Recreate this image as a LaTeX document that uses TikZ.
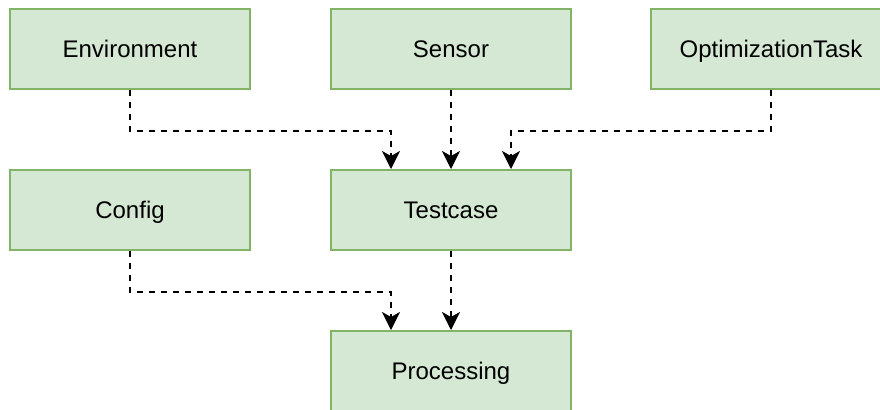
\documentclass[tikz,border=0pt]{standalone}
\usepackage{fontspec}
\setmainfont{Liberation Sans}
\usepackage{tikz}
\usepackage{xcolor}
\usetikzlibrary{arrows.meta}

\definecolor{boxfill}{HTML}{D5E8D4}
\definecolor{boxline}{HTML}{82B366}

\begin{document}
\begin{tikzpicture}[x=0.5pt, y=-0.5pt,
  box/.style={rectangle, draw=boxline, fill=boxfill, line width=1pt,
    minimum width=120pt, minimum height=40pt, inner sep=0pt,
    text height=8.8pt, text depth=0pt,
    font=\fontsize{12}{14}\selectfont},
  flow/.style={draw, line width=1pt, dash pattern=on 3pt off 3pt,
    -{Stealth[length=9pt, width=9pt, inset=2.5pt]}}]
  \useasboundingbox (0,0) rectangle (880,409);

  % Top row
  \node[box] (env)     at (130,49)  {Environment};
  \node[box] (sensor)  at (451,49)  {Sensor};
  \node[box] (opttask) at (771,49)  {OptimizationTask};

  % Middle row
  \node[box] (config)   at (130,210) {Config};
  \node[box] (testcase) at (451,210) {Testcase};

  % Bottom row
  \node[box] (proc) at (451,371) {Processing};

  % Inputs to the testcase
  \draw[flow] (env.south) -- ++(0,41) -| ([xshift=-30pt]testcase.north);
  \draw[flow] (sensor.south) -- (testcase.north);
  \draw[flow] (opttask.south) -- ++(0,41) -| ([xshift=30pt]testcase.north);

  % Inputs to the processing
  \draw[flow] (config.south) -- ++(0,41) -| ([xshift=-30pt]proc.north);
  \draw[flow] (testcase.south) -- (proc.north);
\end{tikzpicture}
\end{document}
